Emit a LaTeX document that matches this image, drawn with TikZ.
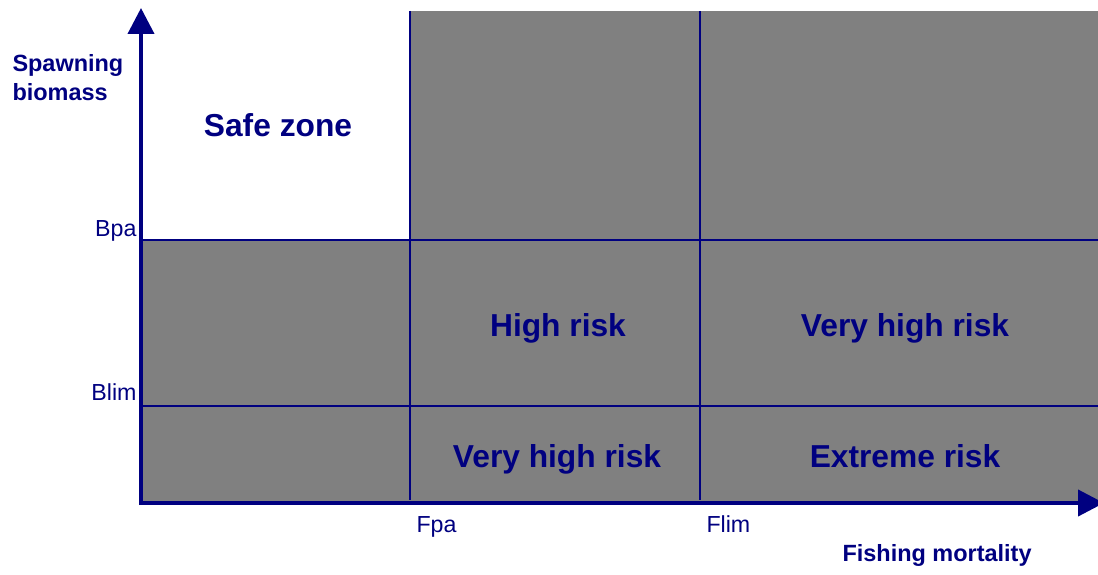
\documentclass[tikz,border=0pt]{standalone}
\usepackage{fontspec}
\setmainfont{Liberation Sans}
\usetikzlibrary{arrows.meta}
\definecolor{navy}{RGB}{0,0,128}
\definecolor{zonegray}{RGB}{128,128,128}
\tikzset{every picture/.style={line width=0.75pt}}

\begin{document}
\begin{tikzpicture}[x=0.75pt,y=0.75pt,yscale=-1,xscale=1,
  zone label/.style={anchor=base,inner sep=0pt,text=navy,font=\fontsize{23.8}{28}\selectfont\bfseries},
  axis label/.style={anchor=base west,inner sep=0pt,text=navy,font=\fontsize{17.6}{22}\selectfont\bfseries},
  ref label/.style={inner sep=0pt,text=navy,font=\fontsize{17.4}{21}\selectfont},
  grid line/.style={draw=navy,line width=1.5},
  axis line/.style={draw=navy,line width=3,-{Triangle[length=19.5pt,width=19.5pt]}}]
\useasboundingbox (0,0) rectangle (1098,574); %diagram is 1098 wide, 574 high

%Shaded zones
\fill [zonegray] (410,11) rectangle (1098,240) ;
\fill [zonegray] (141,240) rectangle (1098,503) ;

%Straight Lines (reference points)
\draw [grid line] (410,11) -- (410,500) ;
\draw [grid line] (700,11) -- (700,500) ;
\draw [grid line] (141,240) -- (1098,240) ;
\draw [grid line] (141,406) -- (1098,406) ;

%Axes
\draw [axis line] (141,505) -- (141,8) ;
\draw [axis line] (139,503) -- (1104,503) ;

% Text Node
\node (safe) [zone label] at (278,137) {Safe zone};
% Text Node
\node (high) [zone label] at (558,336) {High risk};
% Text Node
\node (veryhighB) [zone label] at (905,336) {Very high risk};
% Text Node
\node (veryhighF) [zone label] at (557,467) {Very high risk};
% Text Node
\node (extreme) [zone label] at (905,467) {Extreme risk};

% Text Node
\node (spawn) [axis label] at (12,72) {Spawning};
% Text Node
\node (biomass) [axis label] at (12,101) {biomass};
% Text Node
\node (fishing) [axis label] at (842,561) {Fishing mortality};

% Text Node
\node (bpa) [ref label,anchor=base east] at (137,236) {Bpa};
% Text Node
\node (blim) [ref label,anchor=base east] at (137,400) {Blim};
% Text Node
\node (fpa) [ref label,anchor=base west] at (416,532) {Fpa};
% Text Node
\node (flim) [ref label,anchor=base west] at (706,532) {Flim};

\end{tikzpicture}
\end{document}
